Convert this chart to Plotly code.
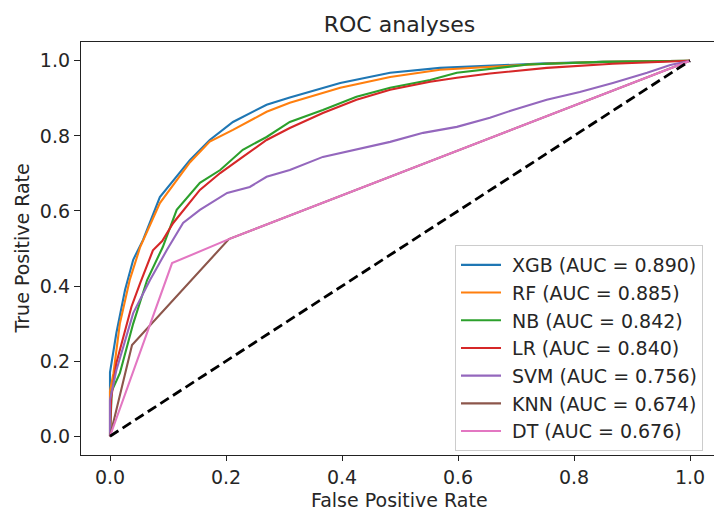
import plotly.graph_objects as go

models = ["XGB", "RF", "NB", "LR", "SVM", "KNN", "DT"]
aucs = [0.890, 0.885, 0.842, 0.840, 0.756, 0.674, 0.676]
colors = ["#1f77b4", "#ff7f0e", "#2ca02c", "#d62728", "#9467bd", "#8c564b", "#e377c2"]

xgb_fpr = [0, 0, 0.011, 0.026, 0.04, 0.057, 0.086, 0.138, 0.172, 0.212, 0.27, 0.31, 0.397, 0.483, 0.569, 0.655, 0.75, 0.85, 1.0]
xgb_tpr = [0, 0.17, 0.275, 0.39, 0.47, 0.523, 0.637, 0.736, 0.789, 0.837, 0.883, 0.902, 0.941, 0.968, 0.981, 0.987, 0.993, 0.997, 1.0]

rf_fpr = [0, 0, 0.006, 0.017, 0.034, 0.052, 0.086, 0.138, 0.172, 0.212, 0.27, 0.31, 0.397, 0.483, 0.569, 0.655, 0.75, 0.85, 1.0]
rf_tpr = [0, 0.12, 0.168, 0.30, 0.416, 0.504, 0.621, 0.73, 0.785, 0.816, 0.864, 0.888, 0.928, 0.957, 0.976, 0.984, 0.992, 0.997, 1.0]

nb_fpr = [0, 0.003, 0.017, 0.04, 0.064, 0.091, 0.115, 0.155, 0.19, 0.229, 0.27, 0.31, 0.367, 0.425, 0.483, 0.552, 0.598, 0.655, 0.72, 0.85, 1.0]
nb_tpr = [0, 0.12, 0.168, 0.30, 0.416, 0.504, 0.603, 0.675, 0.709, 0.763, 0.797, 0.837, 0.869, 0.904, 0.928, 0.949, 0.968, 0.979, 0.99, 0.997, 1.0]

lr_fpr = [0, 0.002, 0.011, 0.037, 0.052, 0.074, 0.09, 0.109, 0.155, 0.19, 0.229, 0.27, 0.31, 0.367, 0.425, 0.483, 0.552, 0.598, 0.655, 0.753, 0.867, 0.943, 1.0]
lr_tpr = [0, 0.10, 0.195, 0.345, 0.408, 0.495, 0.52, 0.568, 0.656, 0.701, 0.744, 0.789, 0.821, 0.861, 0.896, 0.923, 0.944, 0.955, 0.966, 0.981, 0.992, 0.997, 1.0]

svm_fpr = [0, 0, 0.011, 0.04, 0.069, 0.098, 0.126, 0.155, 0.202, 0.241, 0.27, 0.31, 0.367, 0.425, 0.483, 0.54, 0.598, 0.655, 0.695, 0.753, 0.81, 0.867, 0.926, 0.966, 1.0]
svm_tpr = [0, 0.096, 0.176, 0.328, 0.416, 0.496, 0.568, 0.603, 0.648, 0.664, 0.691, 0.709, 0.744, 0.763, 0.784, 0.808, 0.824, 0.848, 0.869, 0.896, 0.917, 0.941, 0.968, 0.989, 1.0]

knn_fpr = [0, 0.038, 0.205, 1.0]
knn_tpr = [0, 0.243, 0.525, 1.0]

dt_fpr = [0, 0.107, 0.205, 1.0]
dt_tpr = [0, 0.461, 0.525, 1.0]

chance_fpr = [0, 1]
chance_tpr = [0, 1]

x_ticks = [0.0, 0.2, 0.4, 0.6, 0.8, 1.0]
y_ticks = [0.0, 0.2, 0.4, 0.6, 0.8, 1.0]

curves = [(xgb_fpr, xgb_tpr), (rf_fpr, rf_tpr), (nb_fpr, nb_tpr), (lr_fpr, lr_tpr),
          (svm_fpr, svm_tpr), (knn_fpr, knn_tpr), (dt_fpr, dt_tpr)]

FONT = "DejaVu Sans"
FS = 19
fig = go.Figure()
for i, (name, auc, col, (fx, ty)) in enumerate(zip(models, aucs, colors, curves)):
    fig.add_trace(go.Scatter(
        x=fx, y=ty, mode="lines", name=f"\u00a0{name} (AUC = {auc:.3f})",
        line=dict(color=col, width=2.1),
    ))
fig.add_trace(go.Scatter(
    x=chance_fpr, y=chance_tpr, mode="lines", showlegend=False,
    line=dict(color="black", width=2.8, dash="10px,5px"),
))

W, H = 714, 511
L, R, T, B = 81, 0, 42, 56
px_per_unit_x = 580.0
x0_px = 110.0
x_max = (W - R - x0_px) / px_per_unit_x

axis_common = dict(
    showgrid=False, zeroline=False, showline=True, linecolor="#222", linewidth=1.3,
    ticks="outside", tickwidth=1.3, tickcolor="#222",
    tickfont=dict(family=FONT, size=FS, color="#262626"),
)
fig.update_layout(
    width=W, height=H,
    margin=dict(l=L, r=R, t=T, b=B),
    plot_bgcolor="white", paper_bgcolor="white",
    title=dict(text="ROC analyses", x=399.5 / W, xref="container", xanchor="center",
               y=1 - 24 / H, yref="container", yanchor="middle",
               font=dict(family=FONT, size=22, color="#262626")),
    xaxis=dict(range=[-0.05, x_max], tickvals=x_ticks, ticktext=[f"{v:.1f}" for v in x_ticks],
               mirror=True, ticklen=5, **axis_common),
    yaxis=dict(range=[-0.05, 1.05], tickvals=y_ticks, ticktext=[f"{v:.1f}" for v in y_ticks],
               mirror=False, ticklen=6, **axis_common),
    legend=dict(x=(455 - L) / (W - L - R), y=(H - B - 245) / (H - T - B), xanchor="left", yanchor="top",
                bgcolor="rgba(255,255,255,0.85)", bordercolor="#cccccc", borderwidth=1,
                font=dict(family=FONT, size=FS, color="#262626"), itemwidth=40),
    showlegend=True,
)
fig.add_annotation(text="False Positive Rate", xref="paper", yref="paper",
                   x=(399.5 - L) / (W - L - R), y=(H - B - 500) / (H - T - B),
                   xanchor="center", yanchor="middle", showarrow=False,
                   font=dict(family=FONT, size=FS, color="#262626"))
fig.add_annotation(text="True Positive Rate", xref="paper", yref="paper",
                   x=(21 - L) / (W - L - R), y=0.5, textangle=-90,
                   xanchor="center", yanchor="middle", showarrow=False,
                   font=dict(family=FONT, size=FS, color="#262626"))

fig.write_html("out.html")
